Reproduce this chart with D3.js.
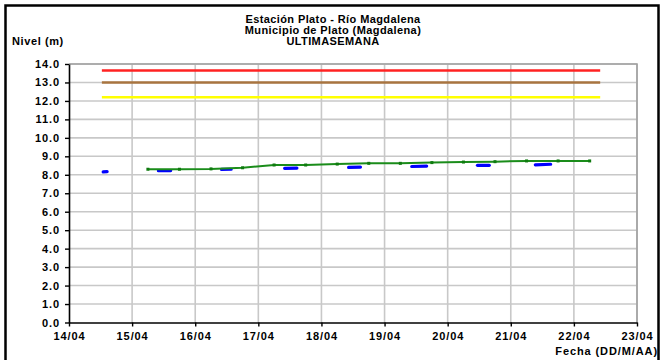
<!DOCTYPE html>
<html>
<head>
<meta charset="utf-8">
<script src="https://cdn.jsdelivr.net/npm/d3@7"></script>
<style>
  html, body { margin: 0; padding: 0; background: #fff; }
  svg text { font-family: "Liberation Sans", Arial, sans-serif; font-weight: bold; }
</style>
</head>
<body>
<div id="chart"></div>
<script>
// Titles
const titleLines = ["Estación Plato - Río Magdalena", "Municipio de Plato (Magdalena)", "ULTIMASEMANA"];
const yTitle = "Nivel (m)";
const xTitle = "Fecha (DD/M/AA)";

// Axis domains
const xStart = "2013-04-14T00:00";
const xEnd = "2013-04-23T00:00";
const yTicks = d3.range(0, 14.01, 1);

// Alert levels (red, orange/brown, yellow)
const alertStart = "2013-04-14T12:30";
const alertEnd = "2013-04-22T10:00";
const alertLevels = [13.65, 13.0, 12.2];
const alertColors = ["#ff2222", "#a8743f", "#ffff00"];

// Observed readings (blue), two per day
const obsTimes = [
  ["2013-04-14T13:00", "2013-04-14T14:30"],
  ["2013-04-15T10:00", "2013-04-15T14:40"],
  ["2013-04-16T10:00", "2013-04-16T13:40"],
  ["2013-04-17T10:00", "2013-04-17T14:40"],
  ["2013-04-18T10:20", "2013-04-18T14:50"],
  ["2013-04-19T10:20", "2013-04-19T16:00"],
  ["2013-04-20T11:20", "2013-04-20T15:50"],
  ["2013-04-21T09:20", "2013-04-21T15:10"]
];
const obsValues = [
  [8.16, 8.17],
  [8.22, 8.23],
  [8.29, 8.30],
  [8.35, 8.36],
  [8.40, 8.42],
  [8.45, 8.47],
  [8.51, 8.51],
  [8.54, 8.57]
];

// Smoothed / forecast level (green), every 12 hours
const fitTimes = [
  "2013-04-15T06:00", "2013-04-15T18:00", "2013-04-16T06:00", "2013-04-16T18:00",
  "2013-04-17T06:00", "2013-04-17T18:00", "2013-04-18T06:00", "2013-04-18T18:00",
  "2013-04-19T06:00", "2013-04-19T18:00", "2013-04-20T06:00", "2013-04-20T18:00",
  "2013-04-21T06:00", "2013-04-21T18:00", "2013-04-22T06:00"
];
const fitValues = [8.30, 8.30, 8.32, 8.38, 8.53, 8.53, 8.58, 8.62, 8.62, 8.66, 8.69, 8.71, 8.75, 8.75, 8.75];

const parse = d3.utcParse("%Y-%m-%dT%H:%M");

const width = 661, height = 360;
const margin = { left: 69, right: 24, top: 64, bottom: 37.5 };

const svg = d3.select("#chart").append("svg")
  .attr("width", width)
  .attr("height", height);

// Outer frame
svg.append("rect")
  .attr("x", 5.5).attr("y", 5.5)
  .attr("width", 653).attr("height", 360)
  .attr("fill", "none")
  .attr("stroke", "#000")
  .attr("stroke-width", 2.5);

const x = d3.scaleUtc()
  .domain([parse(xStart), parse(xEnd)])
  .range([margin.left, width - margin.right]);

const y = d3.scaleLinear()
  .domain([0, 14])
  .range([height - margin.bottom, margin.top]);

const days = d3.utcDay.range(parse(xStart), d3.utcDay.offset(parse(xEnd), 1));

// Gridlines
const grid = svg.append("g").attr("stroke", "#c8c8c8").attr("stroke-width", 1.6);
grid.selectAll("line.h")
  .data(yTicks.slice(1))
  .join("line")
  .attr("x1", x.range()[0]).attr("x2", x.range()[1])
  .attr("y1", (d) => y(d)).attr("y2", (d) => y(d));
grid.selectAll("line.v")
  .data(days.slice(1))
  .join("line")
  .attr("x1", (d) => x(d)).attr("x2", (d) => x(d))
  .attr("y1", y(0)).attr("y2", y(14));

// Plot border top/right
svg.append("path")
  .attr("d", `M${x.range()[0]},${y(14)}H${x.range()[1]}V${y(0)}`)
  .attr("fill", "none")
  .attr("stroke", "#a0a0a0")
  .attr("stroke-width", 1.6);

// Alert levels
svg.append("g")
  .selectAll("line")
  .data(alertLevels)
  .join("line")
  .attr("x1", x(parse(alertStart)))
  .attr("x2", x(parse(alertEnd)))
  .attr("y1", (d) => y(d))
  .attr("y2", (d) => y(d))
  .attr("stroke", (d, i) => alertColors[i])
  .attr("stroke-width", 2.5);

// Axes
const yAxis = d3.axisLeft(y)
  .tickValues(yTicks)
  .tickFormat(d3.format(".1f"))
  .tickSize(4)
  .tickSizeOuter(0)
  .tickPadding(5);

const gy = svg.append("g")
  .attr("transform", `translate(${x.range()[0]},0)`)
  .call(yAxis);

const xAxis = d3.axisBottom(x)
  .tickValues(days)
  .tickFormat(d3.utcFormat("%d/%m"))
  .tickSize(4)
  .tickSizeOuter(0)
  .tickPadding(6);

const gx = svg.append("g")
  .attr("transform", `translate(0,${y(0)})`)
  .call(xAxis);

[gx, gy].forEach((g) => {
  g.select(".domain").attr("stroke", "#000").attr("stroke-width", 1.6);
  g.selectAll(".tick line").attr("stroke", "#000").attr("stroke-width", 1.4);
  g.selectAll(".tick text")
    .attr("fill", "#000")
    .style("font-size", "11px")
    .style("letter-spacing", "0.9px");
});
gx.selectAll(".tick text").attr("dy", "0.71em");

// Observed readings
const line = d3.line()
  .x((d) => x(d[0]))
  .y((d) => y(d[1]));

svg.append("g")
  .selectAll("path")
  .data(obsTimes.map((t, i) => t.map((s, j) => [parse(s), obsValues[i][j]])))
  .join("path")
  .attr("d", line)
  .attr("fill", "none")
  .attr("stroke", "#0000ff")
  .attr("stroke-width", 3.2)
  .attr("stroke-linecap", "round");

// Green series
const fitData = fitTimes.map((t, i) => [parse(t), fitValues[i]]);
svg.append("path")
  .datum(fitData)
  .attr("d", line)
  .attr("fill", "none")
  .attr("stroke", "#1a8c1a")
  .attr("stroke-width", 2);

svg.append("g")
  .selectAll("rect")
  .data(fitData)
  .join("rect")
  .attr("x", (d) => x(d[0]) - 1.5)
  .attr("y", (d) => y(d[1]) - 1.5)
  .attr("width", 3)
  .attr("height", 3)
  .attr("fill", "#0f7a0f");

// Titles
svg.append("g")
  .selectAll("text")
  .data(titleLines)
  .join("text")
  .attr("x", 333)
  .attr("y", (d, i) => 23 + i * 11)
  .attr("text-anchor", "middle")
  .style("font-size", "11px")
  .style("letter-spacing", "0.4px")
  .text((d) => d);

svg.append("text")
  .attr("x", 12)
  .attr("y", 45)
  .style("font-size", "11px")
  .style("letter-spacing", "0.6px")
  .text(yTitle);

svg.append("text")
  .attr("x", 658)
  .attr("y", 355)
  .attr("text-anchor", "end")
  .style("font-size", "11px")
  .style("letter-spacing", "0.9px")
  .text(xTitle);
</script>
</body>
</html>
